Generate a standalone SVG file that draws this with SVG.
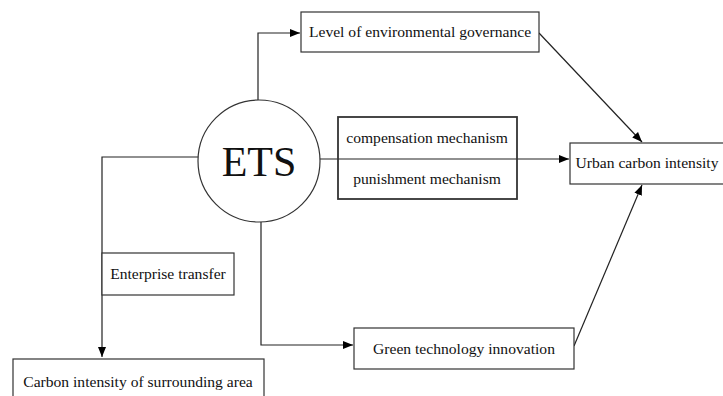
<svg xmlns="http://www.w3.org/2000/svg" width="723" height="396" viewBox="0 0 723 396">
  <defs>
    <marker id="arrow" viewBox="0 0 10 10" refX="10" refY="5" markerWidth="10" markerHeight="10" markerUnits="userSpaceOnUse" orient="auto">
      <path d="M0,1 L10,5 L0,9 Z" fill="#000"/>
    </marker>
    <style>
      .box { fill: #fff; stroke: #333; stroke-width: 1.2; }
      .thick { stroke-width: 1.8; }
      .lbl { font-size: 15.6px; fill: #111; text-anchor: middle; }
      .conn { fill: none; stroke: #222; stroke-width: 1.2; }
    </style>
  </defs>
  <rect width="723" height="396" fill="#fff"/>

  <g id="connectors">
    <path class="conn" d="M258,100 V33 H300" marker-end="url(#arrow)"/>
    <path class="conn" d="M320,159 H569" marker-end="url(#arrow)"/>
    <path class="conn" d="M539,33 L642,142" marker-end="url(#arrow)"/>
    <path class="conn" d="M574,346 L642,185" marker-end="url(#arrow)"/>
    <path class="conn" d="M261,222 V345 H353" marker-end="url(#arrow)"/>
    <path class="conn" d="M199,157 H102 V357" marker-end="url(#arrow)"/>
  </g>

  <g font-family="Liberation Serif, Times New Roman, serif">
    <g id="ets">
      <circle cx="259" cy="161" r="61" fill="#fff" stroke="#333" stroke-width="1.2"/>
      <text x="259" y="176" font-size="42" text-anchor="middle" fill="#111">ETS</text>
    </g>

    <g id="governance">
      <rect class="box" x="301" y="12" width="238" height="40"/>
      <text class="lbl" x="420" y="37">Level of environmental governance</text>
    </g>

    <g id="mechanism">
      <rect class="box thick" x="338" y="117" width="179" height="82" style="fill:none"/>
      <text class="lbl" x="427" y="143">compensation mechanism</text>
      <text class="lbl" x="427" y="184">punishment mechanism</text>
    </g>

    <g id="urban">
      <rect class="box" x="570" y="143" width="160" height="41"/>
      <text class="lbl" x="647" y="168">Urban carbon intensity</text>
    </g>

    <g id="green">
      <rect class="box" x="354" y="328" width="220" height="41"/>
      <text class="lbl" x="464" y="354">Green technology innovation</text>
    </g>

    <g id="enterprise">
      <rect class="box" x="102" y="253" width="132" height="42"/>
      <text class="lbl" x="168" y="279">Enterprise transfer</text>
    </g>

    <g id="surrounding">
      <rect class="box" x="13" y="359" width="251" height="45"/>
      <text class="lbl" x="138" y="387">Carbon intensity of surrounding area</text>
    </g>
  </g>
</svg>
